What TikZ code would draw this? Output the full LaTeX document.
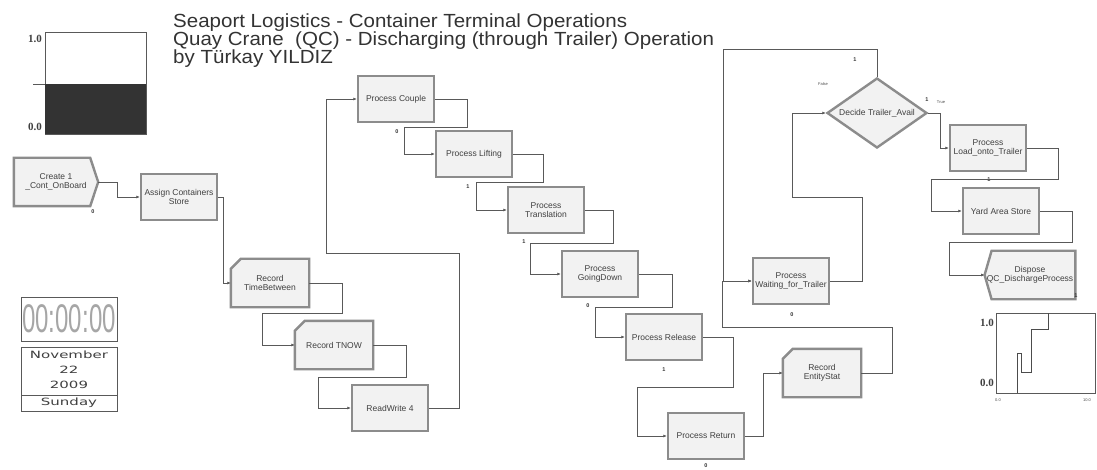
\documentclass[tikz,border=0pt]{standalone}
\usepackage{fontspec}
\setmainfont{Liberation Sans}
\newfontfamily\titlefont[FakeStretch=1.08]{Liberation Sans}
\newfontfamily\modfont{Liberation Sans}
\newfontfamily\datefont[FakeStretch=1.5]{DejaVu Sans}
\newfontfamily\clockfont[FakeStretch=0.6]{Liberation Sans}
\newfontfamily\serifnum{Liberation Serif}
\usetikzlibrary{shapes.geometric,arrows.meta,backgrounds}
\newcommand\modtext{\modfont\fontsize{8.5}{9.5}\selectfont}
\begin{document}
\begin{tikzpicture}[x=1pt,y=-1pt,
  mod/.style={draw=black!45, line width=2.4pt, fill=black!5, minimum width=76pt, minimum height=46pt, inner sep=1pt, align=center, font=\modtext, text=black!75},
  modtxt/.style={mod, draw=none, fill=none},
  modline/.style={draw=black!45, line width=2.4pt, fill=black!5, line join=miter},
  conn/.style={draw=black!65, line width=0.9pt, -{Latex[length=3.5pt,width=3pt]}},
  counter/.style={font=\bfseries\fontsize{5.5}{6}\selectfont, text=black!80, inner sep=0},
  tiny/.style={font=\fontsize{4}{4}\selectfont, text=black!70, inner sep=0},
  titleline/.style={font=\titlefont\fontsize{19}{18}\selectfont, text=black!80, anchor=base west, inner sep=0},
  numlbl/.style={font=\serifnum\bfseries\fontsize{11}{11}\selectfont, text=black!75, inner sep=0, anchor=east},
  datetxt/.style={font=\datefont\fontsize{10}{11}\selectfont, text=black!75, inner sep=0},
  frame/.style={draw=black!65, line width=0.8pt}
]
\useasboundingbox (0,0) rectangle (1097,470);

% ---------- title ----------
\node[titleline] (t1) at (173,28) {Seaport Logistics - Container Terminal Operations};
\node[titleline] (t2) at (173,46) {Quay Crane\ \ (QC) - Discharging (through Trailer) Operation};
\node[titleline] (t3) at (173,64) {by Türkay YILDIZ};

% ---------- level gauge ----------
\draw[frame, fill=white] (45,32) rectangle (146,134);
\fill[black!80] (45,84) rectangle (146,134);
\draw[frame] (33,84) -- (45,84);
\node[numlbl] (g1) at (42,39) {1.0};
\node[numlbl] (g0) at (42,127) {0.0};

% ---------- clock and date ----------
\node[frame, minimum width=96pt, minimum height=44pt, inner sep=0,
      font=\clockfont\fontsize{40}{40}\selectfont, text=black!35] (clock) at (69,319) {00:00:00};
\draw[frame] (21,347) rectangle (117,411);
\draw[frame] (21,395) -- (117,395);
\node[datetxt] (month) at (69,355) {November};
\node[datetxt] (day) at (69,370) {22};
\node[datetxt] (year) at (69,385) {2009};
\node[datetxt] (wday) at (69,403) {Sunday};

% ---------- modules ----------
\node[modtxt, minimum width=82pt] (create) at (56,182) {Create 1\\\_Cont\_OnBoard};
\node[mod] (assign) at (179,197) {Assign Containers\\Store};
\node[modtxt] (rectime) at (270,283) {Record\\TimeBetween};
\node[modtxt] (rectnow) at (334,345) {Record TNOW};
\node[mod] (readwrite) at (390,408) {ReadWrite 4};
\node[mod] (couple) at (396,99) {Process Couple};
\node[mod] (lifting) at (474,154) {Process Lifting};
\node[mod] (translation) at (546,210) {Process\\Translation};
\node[mod] (goingdown) at (600,274) {Process\\GoingDown};
\node[mod] (release) at (664,337) {Process Release};
\node[mod] (return) at (706,436) {Process Return};
\node[modtxt] (entitystat) at (822,373) {Record\\EntityStat};
\node[mod] (waiting) at (791,281) {Process\\Waiting\_for\_Trailer};
\node[draw=black!45, line width=2.4pt, fill=black!5, diamond, minimum width=100pt, minimum height=70pt, inner sep=0] (decide) at (877,113) {};
\node[font=\modtext, text=black!75, inner sep=0] (decidetxt) at (decide.center) {Decide Trailer\_Avail};
\node[mod] (load) at (988,148) {Process\\Load\_onto\_Trailer};
\node[mod] (yard) at (1001,211) {Yard Area Store};
\node[modtxt, minimum width=78pt] (dispose) at (1030,275) {Dispose\\QC\_DischargeProcess};

\begin{scope}[on background layer]
  \fill[white] (0,0) rectangle (1097,470);
  \path[modline] (create.north west) -- ([xshift=-8pt]create.north east) -- (create.east)
        -- ([xshift=-8pt]create.south east) -- (create.south west) -- cycle;
  \path[modline] (rectime.south west) -- ([yshift=-10pt]rectime.north west) -- ([xshift=10pt]rectime.north west)
        -- (rectime.north east) -- (rectime.south east) -- cycle;
  \path[modline] (rectnow.south west) -- ([yshift=-10pt]rectnow.north west) -- ([xshift=10pt]rectnow.north west)
        -- (rectnow.north east) -- (rectnow.south east) -- cycle;
  \path[modline] (entitystat.south west) -- ([yshift=-10pt]entitystat.north west) -- ([xshift=10pt]entitystat.north west)
        -- (entitystat.north east) -- (entitystat.south east) -- cycle;
  \path[modline] ([xshift=7pt]dispose.north west) -- (dispose.west) -- ([xshift=7pt]dispose.south west)
        -- (dispose.south east) -- (dispose.north east) -- cycle;
\end{scope}

% ---------- counters and labels ----------
\node[counter] (c1) at (93,212) {0};
\node[counter] (c2) at (397,132) {0};
\node[counter] (c3) at (468,187) {1};
\node[counter] (c4) at (524,242) {1};
\node[counter] (c5) at (588,306) {0};
\node[counter] (c6) at (664,370) {1};
\node[counter] (c7) at (706,466) {0};
\node[counter] (c8) at (792,315) {0};
\node[counter] (c9) at (855,60) {1};
\node[counter] (c10) at (927,100) {1};
\node[counter] (c11) at (989,180) {1};
\node[counter] (c12) at (1076,296) {1};
\node[tiny] (lfalse) at (823,84) {False};
\node[tiny] (ltrue) at (941,102) {True};

% ---------- connectors ----------
\draw[conn] (create.east) -| ([xshift=-22pt]assign.west) -- (assign.west);
\draw[conn] (assign.east) -| ([xshift=-7pt]rectime.west) -- (rectime.west);
\draw[conn] (rectime.east) -| (342,313) -| ([xshift=-32pt]rectnow.west) -- (rectnow.west);
\draw[conn] (rectnow.east) -| (406,377) -| ([xshift=-32pt]readwrite.west) -- (readwrite.west);
\draw[conn] (readwrite.east) -| (459,253) -| ([xshift=-30pt]couple.west) -- (couple.west);
\draw[conn] (couple.east) -| (467,127) -| ([xshift=-30pt]lifting.west) -- (lifting.west);
\draw[conn] (lifting.east) -| (543,182) -| ([xshift=-30pt]translation.west) -- (translation.west);
\draw[conn] (translation.east) -| (613,243) -| ([xshift=-30pt]goingdown.west) -- (goingdown.west);
\draw[conn] (goingdown.east) -| (672,307) -| ([xshift=-29pt]release.west) -- (release.west);
\draw[conn] (release.east) -| (733,387) -| ([xshift=-29pt]return.west) -- (return.west);
\draw[conn] (return.east) -| ([xshift=-19pt]entitystat.west) -- (entitystat.west);
\draw[conn] (entitystat.east) -| (892,327) -| ([xshift=-29pt]waiting.west) -- (waiting.west);
\draw[conn] (decide.north) |- (723,49) |- (waiting.west);
\draw[conn] (waiting.east) -| (862,197) -| ([xshift=-33pt]decide.west) -- (decide.west);
\draw[conn] (decide.east) -| ([xshift=-8pt]load.west) -- (load.west);
\draw[conn] (load.east) -| (1058,179) -| ([xshift=-30pt]yard.west) -- (yard.west);
\draw[conn] (yard.east) -| (1072,242) -| ([xshift=-35pt]dispose.west) -- (dispose.west);

% ---------- plot ----------
\draw[frame] (996,313) rectangle (1095,393);
\draw[black!70, line width=1pt] (1017,393) -- (1017,353) -- (1021,353) -- (1021,372) -- (1031,372)
      -- (1031,329) -- (1048,329) -- (1048,313);
\node[numlbl] (p1) at (994,323) {1.0};
\node[numlbl] (p0) at (994,383) {0.0};
\node[tiny] (px0) at (998,400) {0.0};
\node[tiny] (px1) at (1087,400) {10.0};
\end{tikzpicture}
\end{document}
